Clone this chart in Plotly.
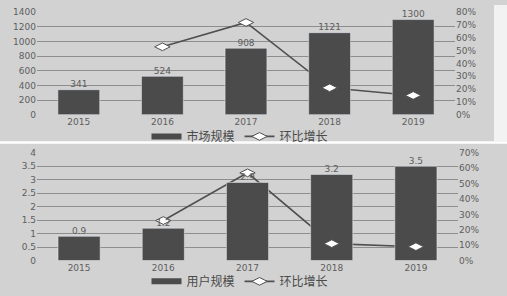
import plotly.graph_objects as go

years = ['2015', '2016', '2017', '2018', '2019']
market_size = [341, 524, 908, 1121, 1300]
market_growth = [None, 53, 72, 21, 15]
user_size = [0.9, 1.2, 2.9, 3.2, 3.5]
user_growth = [None, 26, 57, 11, 9]

W, H = 507, 296
BG = '#d2d2d2'
BAR = '#4b4b4b'
LINE = '#505050'
GRID = '#8e8e8e'
TXT = '#5e5e5e'
NUMFONT = dict(family='DejaVu Sans', size=9, color=TXT)
CJK = dict(family='Noto Sans CJK SC', size=12, color='#4a4a4a')

fig = go.Figure()

def add_panel(xa, ya_line, ya_bar, ya_mk, ya_txt, vals, growth, txt, name, legend):
    # growth line (drawn behind bars)
    fig.add_trace(go.Scatter(x=years, y=growth, mode='lines', xaxis=xa, yaxis=ya_line,
                             line=dict(color=LINE, width=1.6), showlegend=False,
                             connectgaps=False, hoverinfo='skip'))
    # bars
    fig.add_trace(go.Bar(x=years, y=vals, xaxis=xa, yaxis=ya_bar, marker_color=BAR,
                         showlegend=False))
    # markers on top
    fig.add_trace(go.Scatter(x=years, y=growth, mode='markers', xaxis=xa, yaxis=ya_mk,
                             marker=dict(symbol='diamond-wide', size=11, color='white',
                                         line=dict(color=LINE, width=1)),
                             showlegend=False, cliponaxis=False))
    # value labels above bars (topmost layer)
    fig.add_trace(go.Scatter(x=years, y=vals, mode='text', xaxis=xa, yaxis=ya_txt,
                             text=txt, textposition='top center', textfont=NUMFONT,
                             showlegend=False, cliponaxis=False, hoverinfo='skip'))
    # legend entries
    fig.add_trace(go.Scatter(x=[None], y=[None], mode='lines', xaxis=xa, yaxis=ya_bar,
                             line=dict(color=BAR, width=6), name=name, legend=legend))
    fig.add_trace(go.Scatter(x=[None], y=[None], mode='lines+markers', xaxis=xa, yaxis=ya_mk,
                             line=dict(color=LINE, width=1.6),
                             marker=dict(symbol='diamond-wide', size=11, color='white',
                                         line=dict(color=LINE, width=1)),
                             name='环比增长', legend=legend))

add_panel('x', 'y', 'y2', 'y3', 'y7', market_size, market_growth,
          [str(v) for v in market_size], '市场规模', 'legend')
add_panel('x2', 'y4', 'y5', 'y6', 'y8', user_size, user_growth,
          [f'{v:.1f}' for v in user_size], '用户规模', 'legend2')

xcommon = dict(type='category', showgrid=False, showline=False, zeroline=False,
               ticks='', tickfont=NUMFONT)
pct_common = dict(side='right', showgrid=False, zeroline=False, ticksuffix='%',
                  tickfont=NUMFONT, ticks='', showline=False)
left_common = dict(side='left', showgrid=True, gridcolor=GRID, gridwidth=1,
                   zeroline=False, tickfont=NUMFONT, ticks='', showline=False)

top_dom = [(H - 113.5) / H, (H - 7.5) / H]
bot_dom = [(H - 264.5) / H, (H - 153) / H]

fig.update_layout(
    width=W, height=H, margin=dict(l=0, r=0, t=0, b=0),
    paper_bgcolor=BG, plot_bgcolor='rgba(0,0,0,0)',
    bargap=0.5,
    xaxis=dict(domain=[37 / W, 455 / W], anchor='y', **xcommon),
    yaxis=dict(domain=top_dom, anchor='x', range=[0, 80], dtick=10, **pct_common),
    yaxis2=dict(overlaying='y', anchor='x', range=[0, 1400], dtick=200, **left_common),
    yaxis3=dict(overlaying='y', anchor='x', range=[0, 80], visible=False),
    yaxis7=dict(overlaying='y', anchor='x', range=[0, 1400], visible=False),
    xaxis2=dict(domain=[37 / W, 458 / W], anchor='y4', **xcommon),
    yaxis4=dict(domain=bot_dom, anchor='x2', range=[0, 70], dtick=10, **pct_common),
    yaxis5=dict(overlaying='y4', anchor='x2', range=[0, 4], dtick=0.5, **left_common),
    yaxis6=dict(overlaying='y4', anchor='x2', range=[0, 70], visible=False),
    yaxis8=dict(overlaying='y4', anchor='x2', range=[0, 4], visible=False),
    legend=dict(orientation='h', x=240 / W, y=(H - 136) / H, xanchor='center',
                yanchor='middle', font=CJK, bgcolor='rgba(0,0,0,0)', itemwidth=30,
                tracegroupgap=0),
    legend2=dict(orientation='h', x=240 / W, y=(H - 286) / H, xanchor='center',
                 yanchor='middle', font=CJK, bgcolor='rgba(0,0,0,0)', itemwidth=30,
                 tracegroupgap=0),
    shapes=[
        dict(type='rect', xref='paper', yref='paper', x0=0, x1=1,
             y0=(H - 143.5) / H, y1=(H - 141) / H, fillcolor='white',
             line_width=0, layer='below'),
        dict(type='rect', xref='paper', yref='paper', x0=494 / W, x1=1,
             y0=(H - 141) / H, y1=1, fillcolor='#f2f2f2', line_width=0, layer='below'),
    ],
)

fig.write_html('out.html')
